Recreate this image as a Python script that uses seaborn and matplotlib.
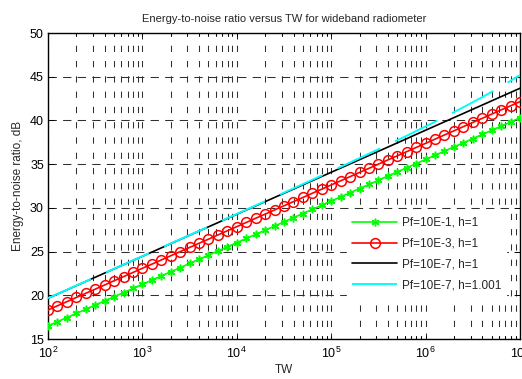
import numpy as np
import pandas as pd
import matplotlib
matplotlib.use("Agg")
import matplotlib.pyplot as plt
import seaborn as sns
from matplotlib.ticker import LogLocator, FixedLocator, FuncFormatter

# ---- data ----
tw = [100, 125.9, 158.5, 199.5, 251.2, 316.2, 398.1, 501.2, 631.0, 794.3,
      1000, 1259, 1585, 1995, 2512, 3162, 3981, 5012, 6310, 7943,
      10000, 12589, 15849, 19953, 25119, 31623, 39811, 50119, 63096, 79433,
      100000, 125893, 158489, 199526, 251189, 316228, 398107, 501187, 630957, 794328,
      1000000, 1258925, 1584893, 1995262, 2511886, 3162278, 3981072, 5011872, 6309573, 7943282,
      10000000]

enr_pf1 = [16.50, 16.98, 17.45, 17.93, 18.40, 18.88, 19.36, 19.83, 20.31, 20.78,
           21.26, 21.74, 22.21, 22.69, 23.16, 23.64, 24.12, 24.59, 25.07, 25.54,
           26.02, 26.50, 26.97, 27.45, 27.92, 28.40, 28.88, 29.35, 29.83, 30.30,
           30.78, 31.26, 31.73, 32.21, 32.68, 33.16, 33.64, 34.11, 34.59, 35.06,
           35.54, 36.02, 36.49, 36.97, 37.44, 37.92, 38.40, 38.87, 39.35, 39.82,
           40.30]

enr_pf3 = [18.32, 18.80, 19.27, 19.75, 20.23, 20.70, 21.18, 21.66, 22.13, 22.61,
           23.09, 23.56, 24.04, 24.52, 24.99, 25.47, 25.95, 26.42, 26.90, 27.38,
           27.85, 28.33, 28.81, 29.28, 29.76, 30.24, 30.71, 31.19, 31.67, 32.14,
           32.62, 33.09, 33.57, 34.05, 34.52, 35.00, 35.48, 35.95, 36.43, 36.91,
           37.38, 37.86, 38.34, 38.81, 39.29, 39.77, 40.24, 40.72, 41.20, 41.67,
           42.15]

enr_pf7 = [19.66, 20.14, 20.62, 21.10, 21.58, 22.06, 22.54, 23.02, 23.50, 23.98,
           24.46, 24.94, 25.42, 25.91, 26.39, 26.87, 27.35, 27.83, 28.31, 28.79,
           29.27, 29.75, 30.23, 30.71, 31.19, 31.67, 32.15, 32.63, 33.11, 33.59,
           34.07, 34.55, 35.03, 35.51, 35.99, 36.47, 36.95, 37.43, 37.91, 38.40,
           38.88, 39.36, 39.84, 40.32, 40.80, 41.28, 41.76, 42.24, 42.72, 43.20,
           43.68]

enr_pf7_h = [19.67, 20.15, 20.63, 21.11, 21.59, 22.07, 22.55, 23.03, 23.51, 23.99,
             24.47, 24.95, 25.44, 25.93, 26.41, 26.89, 27.37, 27.85, 28.34, 28.82,
             29.31, 29.79, 30.28, 30.76, 31.25, 31.74, 32.23, 32.72, 33.21, 33.70,
             34.20, 34.69, 35.19, 35.69, 36.20, 36.71, 37.22, 37.73, 38.25, 38.79,
             39.32, 39.85, 40.40, 40.95, 41.51, 42.09, 42.67, 43.27, 43.89, 44.53,
             45.18]

labels = ["Pf=10E-1, h=1", "Pf=10E-3, h=1", "Pf=10E-7, h=1", "Pf=10E-7, h=1.001"]
y_ticks = [15, 20, 25, 30, 35, 40, 45, 50]
x_ticks = [1e2, 1e3, 1e4, 1e5, 1e6, 1e7]

# ---- style ----
sns.set_theme(style="ticks")
plt.rcParams["font.family"] = ["Liberation Sans", "DejaVu Sans"]
plt.rcParams["mathtext.default"] = "regular"
plt.rcParams["lines.scale_dashes"] = False
plt.rcParams["xtick.direction"] = "in"
plt.rcParams["ytick.direction"] = "in"

fig = plt.figure(figsize=(5.22, 3.79), dpi=100)
ax = fig.add_axes([48 / 522, 1 - 339 / 379, (520 - 48) / 522, (339 - 33) / 379])

sns.lineplot(x=tw, y=enr_pf1, ax=ax, color=(0, 1, 0), lw=1.2, marker=(6, 2, 0),
             markersize=5.5, markeredgewidth=1.1, markeredgecolor=(0, 1, 0),
             label=labels[0], zorder=3)
sns.lineplot(x=tw, y=enr_pf3, ax=ax, color=(1, 0, 0), lw=1.2, marker="o",
             markersize=7, markerfacecolor="none", markeredgecolor=(1, 0, 0),
             markeredgewidth=1.1, label=labels[1], zorder=3)
sns.lineplot(x=tw, y=enr_pf7, ax=ax, color="black", lw=1.2, label=labels[2], zorder=3)
sns.lineplot(x=tw, y=enr_pf7_h, ax=ax, color=(0, 1, 1), lw=1.4,
             label=labels[3], zorder=4)
ax.lines[-1].set_linestyle((0, (33.9, 11.8)))

ax.set_xscale("log")
ax.set_xlim(1e2, 1e7)
ax.set_ylim(15, 50)
ax.yaxis.set_major_locator(FixedLocator(y_ticks))
ax.xaxis.set_major_locator(FixedLocator(x_ticks))
ax.xaxis.set_minor_locator(LogLocator(base=10, subs=np.arange(2, 10), numticks=20))
ax.xaxis.set_major_formatter(FuncFormatter(lambda v, p: "10$^{%d}$" % round(np.log10(v))))
ax.xaxis.set_minor_formatter(FuncFormatter(lambda v, p: ""))

ax.tick_params(which="both", top=True, right=True, labelsize=9, colors="black",
               width=0.6)
ax.tick_params(which="major", length=4, pad=3)
ax.tick_params(axis="x", which="major", pad=5)
ax.tick_params(which="minor", length=2.5)
for s in ax.spines.values():
    s.set_linewidth(1.0)
    s.set_color("black")

ax.grid(which="major", axis="y", color="#303030", lw=0.75, linestyle=(0, (6.0, 4.5)))
ax.grid(which="both", axis="x", color="#303030", lw=0.75, linestyle=(2, (4.5, 6.5)))
ax.set_axisbelow(True)

ax.set_title("Energy-to-noise ratio versus TW for wideband radiometer",
             fontsize=8, pad=8)
ax.set_xlabel("TW", fontsize=8.5, labelpad=2)
ax.set_ylabel("Energy-to-noise ratio, dB", fontsize=8.5, labelpad=4)

leg = ax.legend(loc="lower right", bbox_to_anchor=(0.97, 0.14), fontsize=8.5,
                frameon=True, fancybox=False, framealpha=1, edgecolor="white",
                handlelength=3.8, handletextpad=0.4, labelspacing=0.75,
                borderpad=0.4, borderaxespad=0)
leg.set_zorder(5)

fig.savefig("out.png", dpi=100)
